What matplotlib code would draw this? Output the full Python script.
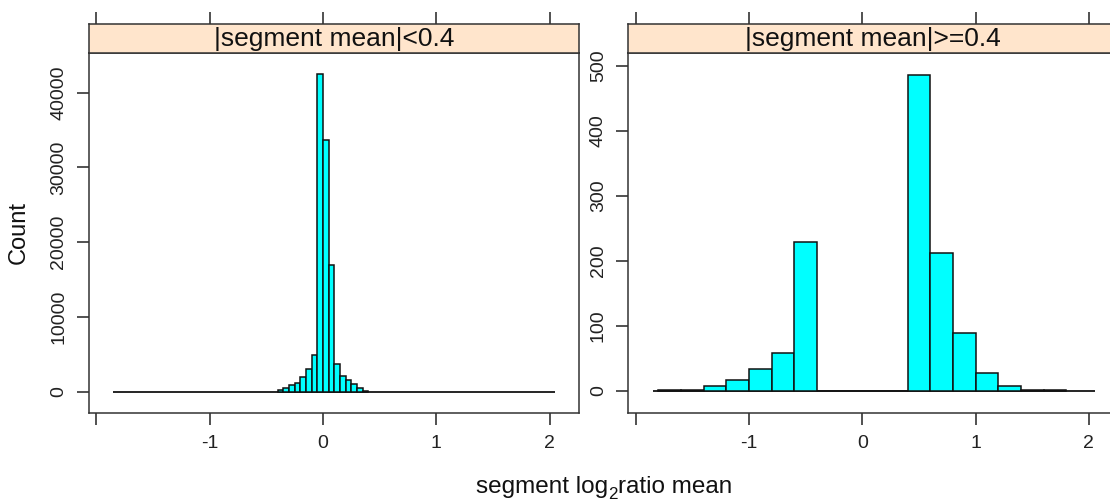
import numpy as np
import matplotlib
matplotlib.use("Agg")
import matplotlib.pyplot as plt

plt.rcParams['font.family'] = ['Liberation Sans', 'DejaVu Sans']

# data range of segment log2ratio means (shared by both panels)
data_range = (-1.85, 2.05)

# panel 1: |segment mean| < 0.4, bins of width 0.05
small_start = -0.4
small_width = 0.05
small_counts = [230, 540, 900, 1200, 1900, 3000, 4900, 42500,
                33700, 17000, 3680, 2100, 1570, 1030, 450, 150]

# panel 2: |segment mean| >= 0.4, bins of width 0.2
large_start = -1.8
large_width = 0.2
large_counts = [1, 1, 8, 17, 34, 59, 229, 0, 0, 0, 0,
                486, 212, 90, 27, 7, 2, 1]

panel_titles = ["|segment mean|<0.4", "|segment mean|>=0.4"]
x_ticks = [-2, -1, 0, 1, 2]
x_ticklabels = ["", "-1", "0", "1", "2"]
y_ticks_small = [0, 10000, 20000, 30000, 40000]
y_ticks_large = [0, 100, 200, 300, 400, 500]

W, H = 1110, 504
fig = plt.figure(figsize=(W / 100, H / 100), dpi=100)

xlim = (-2.065, 2.26)
panels = [
    (89, small_start, small_width, small_counts, y_ticks_small, (-2850, 45310)),
    (628.3, large_start, large_width, large_counts, y_ticks_large, (-33.8, 520)),
]
box_top, box_bot, strip_top = 53, 413, 24
pw = 490

for (x0, start, width, counts, yt, ylim), title in zip(panels, panel_titles):
    ax = fig.add_axes([x0 / W, (H - box_bot) / H, pw / W, (box_bot - box_top) / H])
    edges = start + width * np.arange(len(counts))
    ax.hlines(0, data_range[0], data_range[1], color="black", lw=1.2, zorder=1)
    ax.bar(edges, counts, width=width, align="edge", color="#00FFFF",
           edgecolor="#111111", linewidth=1.1, zorder=2)
    ax.set_xlim(*xlim)
    ax.set_ylim(*ylim)
    ax.set_xticks(x_ticks)
    ax.set_xticklabels(x_ticklabels)
    ax.set_yticks(yt)
    ax.set_yticklabels([str(v) for v in yt], rotation=90, va="center")
    ax.tick_params(axis="both", direction="out", length=8.5, width=1.1,
                   labelsize=14, pad=7, colors="#222222", labelcolor="#222222")
    for s in ax.spines.values():
        s.set_linewidth(1.1)
        s.set_color("#333333")

    sx = fig.add_axes([x0 / W, (H - box_top) / H, pw / W, (box_top - strip_top) / H])
    sx.set_facecolor("#FFE5CC")
    sx.set_xlim(*xlim)
    sx.set_ylim(0, 1)
    sx.set_yticks([])
    sx.set_xticks(x_ticks)
    sx.xaxis.tick_top()
    sx.set_xticklabels([])
    sx.tick_params(axis="x", direction="out", length=8.5, width=1.1, colors="#222222")
    for s in sx.spines.values():
        s.set_linewidth(1.1)
        s.set_color("#333333")
    sx.text(0.5, 0.47, title, transform=sx.transAxes, ha="center", va="center",
            fontsize=19, color="#111111")

fig.text(19 / W, 1 - 233 / H, "Count", rotation=90, ha="center", va="center",
         fontsize=17, color="#111111")

# x label built from pieces so the subscript sits tight against "ratio"
renderer = fig.canvas.get_renderer()
lab_fs = 17.5
parts = [("segment log", lab_fs, 0), ("2", lab_fs * 0.7, -6), ("ratio mean", lab_fs, 0)]
widths = []
for txt, fs, dy in parts:
    t = fig.text(0, 0, txt, fontsize=fs)
    widths.append(t.get_window_extent(renderer).width)
    t.remove()
x = 604 - sum(widths) / 2
for (txt, fs, dy), w in zip(parts, widths):
    fig.text(x / W, (H - 493 + dy) / H, txt, fontsize=fs, color="#111111",
             ha="left", va="baseline")
    x += w

fig.savefig("out.png", dpi=100)
